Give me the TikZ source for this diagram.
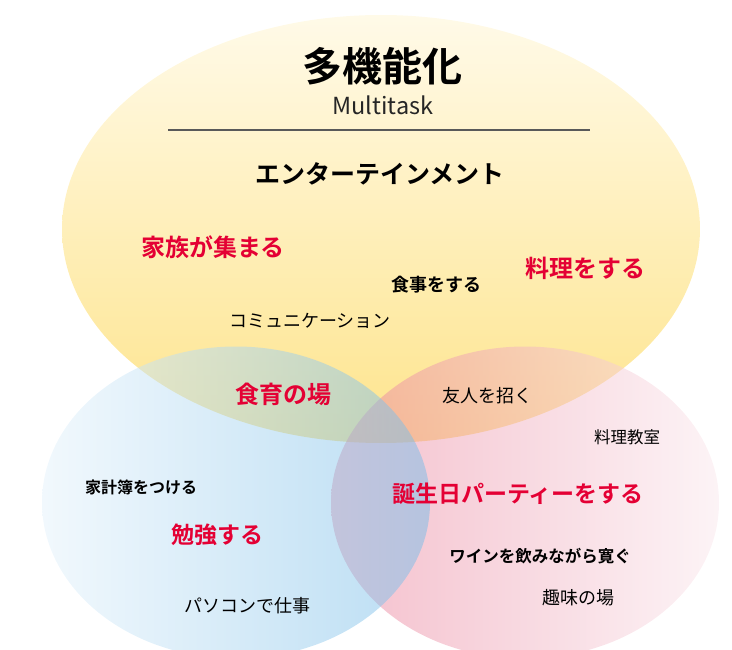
\documentclass[tikz,border=0pt]{standalone}
\usepackage{fontspec}
\setmainfont{Noto Sans CJK JP}[BoldFont={* Bold}]
\definecolor{jred}{RGB}{228,0,52}
\definecolor{ytop}{RGB}{255,250,232}
\definecolor{ybot}{RGB}{254,228,140}
\definecolor{bleft}{RGB}{228,242,251}
\definecolor{bright}{RGB}{118,188,232}
\definecolor{pleft}{RGB}{234,128,154}
\definecolor{pright}{RGB}{250,232,237}
\begin{document}
\begin{tikzpicture}[x=1pt,y=-1pt,
  lbl/.style={inner sep=0pt, anchor=center},
  redt/.style={lbl, text=jred, font=\bfseries},
  blackb/.style={lbl, text=black, font=\bfseries},
  blackr/.style={lbl, text=black}]
\useasboundingbox (0,0) rectangle (732,650);
% circles
\shade[top color=ytop, bottom color=ybot] (381,229) ellipse [x radius=319pt, y radius=214pt];
\shade[left color=pleft, right color=pright, fill opacity=0.5] (525,502.5) ellipse [x radius=194pt, y radius=156pt];
\shade[left color=bleft, right color=bright, fill opacity=0.5] (236,502.5) ellipse [x radius=194pt, y radius=156pt];
% title
\node[blackb, font=\bfseries\fontsize{40}{44}\selectfont] (title) at (382,66) {多機能化};
\node[lbl, text=black!85, font=\fontsize{23.5}{26}\selectfont] (sub) at (383,105) {Multitask};
\coordinate (l1) at (168,130);
\coordinate (l2) at (590,130);
\draw[line width=1.3pt, draw=black!65] (l1) -- (l2);
\node[blackb, font=\bfseries\fontsize{25}{30}\selectfont] (ent) at (380,174) {エンターテインメント};
% yellow area
\node[redt, font=\bfseries\fontsize{24}{28}\selectfont] (kazoku) at (213,247) {家族が集まる};
\node[redt, font=\bfseries\fontsize{24}{28}\selectfont] (ryori) at (585,268) {料理をする};
\node[blackb, font=\bfseries\fontsize{18}{22}\selectfont] (shokuji) at (436,285) {食事をする};
\node[blackr, font=\fontsize{18}{22}\selectfont] (comm) at (310,321) {コミュニケーション};
\node[redt, font=\bfseries\fontsize{24}{28}\selectfont] (shokuiku) at (283,394) {食育の場};
\node[blackr, font=\fontsize{18}{22}\selectfont] (yujin) at (487,396) {友人を招く};
% pink area
\node[blackr, font=\fontsize{16.5}{20}\selectfont] (kyoshitsu) at (627,437) {料理教室};
\node[redt, font=\bfseries\fontsize{23}{28}\selectfont] (party) at (518,494) {誕生日パーティーをする};
\node[blackb, font=\bfseries\fontsize{16.5}{20}\selectfont] (wine) at (540,556) {ワインを飲みながら寛ぐ};
\node[blackr, font=\fontsize{18}{22}\selectfont] (shumi) at (578,598) {趣味の場};
% blue area
\node[blackb, font=\bfseries\fontsize{16}{20}\selectfont] (kakeibo) at (141,487) {家計簿をつける};
\node[redt, font=\bfseries\fontsize{23}{28}\selectfont] (benkyo) at (217,535) {勉強する};
\node[blackr, font=\fontsize{18}{22}\selectfont] (pc) at (247,606) {パソコンで仕事};
\end{tikzpicture}
\end{document}
